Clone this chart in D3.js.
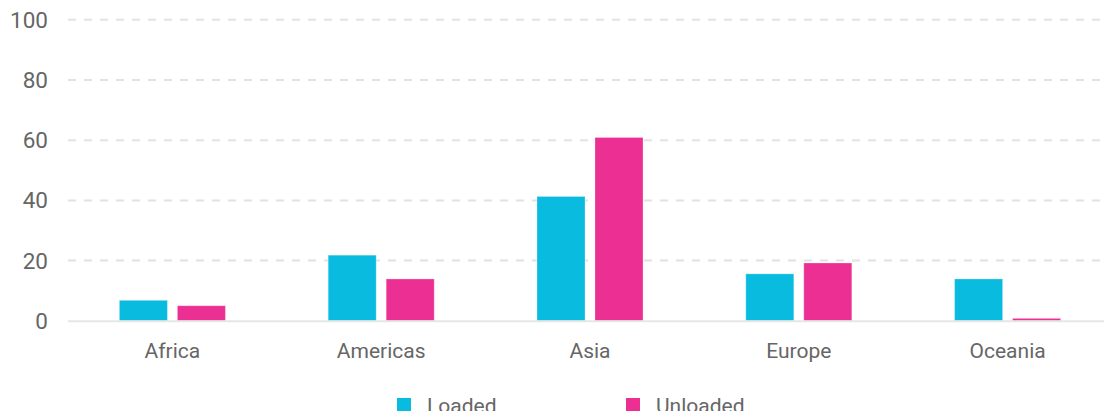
<!DOCTYPE html>
<html>
<head>
<meta charset="utf-8">
<script src="https://cdn.jsdelivr.net/npm/d3@7"></script>
<style>
  html, body { margin: 0; padding: 0; background: #fff; overflow: hidden; }
  svg { display: block; font-family: Roboto, "Noto Sans", sans-serif; }
</style>
</head>
<body>
<svg id="chart" width="1104" height="411"></svg>
<script>
const categories = ["Africa", "Americas", "Asia", "Europe", "Oceania"];
const seriesNames = ["Loaded", "Unloaded"];
const loaded = [6.8, 21.8, 41.3, 15.6, 13.9];
const unloaded = [5.0, 13.9, 60.9, 19.2, 0.8];
const yTicks = [0, 20, 40, 60, 80, 100];
const colors = ["#0abbe0", "#ec2f92"];

const svg = d3.select("#chart");
const x0 = 68, x1 = 1112, yBase = 320.8, yTop = 19.8;

const x = d3.scaleBand().domain(categories).range([x0, x1]).padding(0);
const y = d3.scaleLinear().domain([0, 100]).range([yBase, yTop]);
const xs = d3.scaleBand().domain(seriesNames).range([0, 106]).paddingInner(10 / 58);

// gridlines
svg.append("g").selectAll("line").data(yTicks.filter(d => d > 0)).join("line")
  .attr("x1", x0).attr("x2", 1104)
  .attr("y1", d => y(d)).attr("y2", d => y(d))
  .attr("stroke", "#e2e2e2").attr("stroke-width", 2).attr("stroke-dasharray", "8,8");

// y tick labels
svg.append("g").selectAll("text").data(yTicks).join("text")
  .attr("x", 48).attr("y", d => y(d))
  .attr("text-anchor", "end").attr("dominant-baseline", "central")
  .attr("font-size", 22.5).attr("fill", "#666").text(d => d);

// bars
const data = [];
categories.forEach((c, i) => {
  data.push({cat: c, s: "Loaded", v: loaded[i]});
  data.push({cat: c, s: "Unloaded", v: unloaded[i]});
});
const off = (x.bandwidth() - 106) / 2;
svg.append("g").selectAll("rect").data(data).join("rect")
  .attr("x", d => x(d.cat) + off + xs(d.s))
  .attr("width", xs.bandwidth())
  .attr("y", d => y(d.v))
  .attr("height", d => y(0) - y(d.v))
  .attr("fill", d => colors[seriesNames.indexOf(d.s)])
  .attr("stroke", "rgba(255,255,255,0.25)").attr("stroke-width", 1);

// baseline
svg.append("line").attr("x1", x0).attr("x2", 1104)
  .attr("y1", y(0) + 0.5).attr("y2", y(0) + 0.5)
  .attr("stroke", "#e6e6e6").attr("stroke-width", 2);

// x labels
svg.append("g").selectAll("text").data(categories).join("text")
  .attr("x", d => x(d) + x.bandwidth() / 2).attr("y", 358)
  .attr("text-anchor", "middle").attr("font-size", 21).attr("fill", "#666")
  .text(d => d);

// legend
const legendX = [397, 626];
const lg = svg.append("g").selectAll("g").data(seriesNames).join("g")
  .attr("transform", (d, i) => `translate(${legendX[i]},398)`);
lg.append("rect").attr("width", 14).attr("height", 14)
  .attr("fill", (d, i) => colors[i]);
lg.append("text").attr("x", 30).attr("y", 15)
  .attr("font-size", 21).attr("fill", "#666").text(d => d);
</script>
</body>
</html>
